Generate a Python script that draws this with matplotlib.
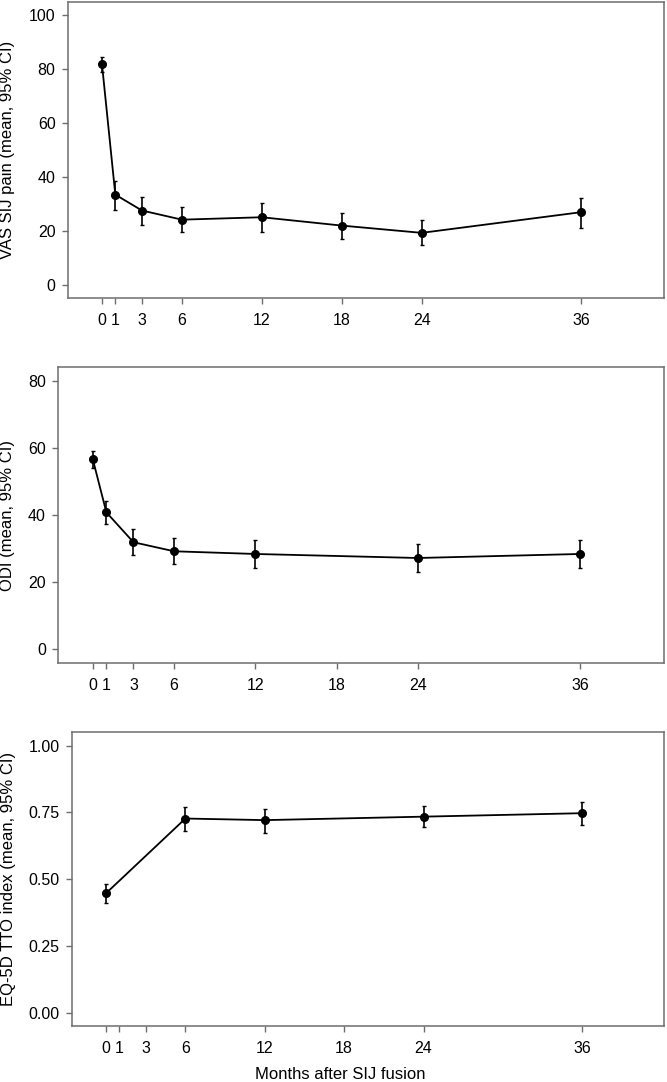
import matplotlib
matplotlib.use("Agg")
import matplotlib.pyplot as plt

plt.rcParams['font.family'] = ['Liberation Sans', 'DejaVu Sans']

# data
months = [0, 1, 3, 6, 12, 18, 24, 36]
xticks = [0, 1, 3, 6, 12, 18, 24, 36]

vas_mean = [81.8, 33.4, 27.5, 24.1, 25.0, 21.9, 19.2, 26.9]
vas_lo = [79.0, 27.8, 22.0, 19.4, 19.7, 17.1, 14.6, 21.0]
vas_hi = [84.5, 38.6, 32.5, 28.8, 30.4, 26.5, 23.8, 32.3]

odi_months = [0, 1, 3, 6, 12, 24, 36]
odi_mean = [56.6, 40.8, 31.9, 29.2, 28.4, 27.2, 28.4]
odi_lo = [54.1, 37.3, 28.0, 25.4, 24.2, 22.9, 24.2]
odi_hi = [59.1, 44.1, 35.9, 33.2, 32.6, 31.4, 32.7]

eq_months = [0, 6, 12, 24, 36]
eq_mean = [0.447, 0.727, 0.721, 0.734, 0.747]
eq_lo = [0.412, 0.682, 0.674, 0.694, 0.703]
eq_hi = [0.481, 0.769, 0.764, 0.775, 0.788]

fig = plt.figure(figsize=(6.67, 10.82), dpi=100)

panels = [
    ([0.102, 0.7246, 0.8936, 0.2736], months, vas_mean, vas_lo, vas_hi,
     "VAS SIJ pain (mean, 95% CI)", [0, 20, 40, 60, 80, 100], ["0", "20", "40", "60", "80", "100"], (-5, 105), -0.089),
    ([0.0874, 0.3875, 0.9085, 0.2730], odi_months, odi_mean, odi_lo, odi_hi,
     "ODI (mean, 95% CI)", [0, 20, 40, 60, 80], ["0", "20", "40", "60", "80"], (-4, 84), -0.071),
    ([0.1084, 0.0518, 0.8876, 0.2714], eq_months, eq_mean, eq_lo, eq_hi,
     "EQ-5D TTO index (mean, 95% CI)", [0, 0.25, 0.5, 0.75, 1.0], ["0.00", "0.25", "0.50", "0.75", "1.00"], (-0.05, 1.05), -0.095),
]

frame = "#6e6e6e"
for i, (rect, x, m, lo, hi, ylab, yt, ytl, ylim, lx) in enumerate(panels):
    ax = fig.add_axes(rect)
    err = [[a - b for a, b in zip(m, lo)], [b - a for a, b in zip(m, hi)]]
    ax.errorbar(x, m, yerr=err, color="black", lw=1.3, marker="o", ms=5.5,
                elinewidth=1.2, capsize=1.2, capthick=1.0)
    ax.set_xlim(-2.55, 42.2)
    ax.set_ylim(*ylim)
    ax.set_xticks(xticks)
    ax.set_xticklabels([str(t) for t in xticks], fontsize=11.5)
    ax.set_yticks(yt)
    ax.set_yticklabels(ytl, fontsize=11.5)
    ax.set_ylabel(ylab, fontsize=12)
    ax.yaxis.set_label_coords(lx, 0.5)
    for s in ax.spines.values():
        s.set_color(frame)
        s.set_linewidth(1.1)
    ax.tick_params(color=frame, length=4, width=1.0)
    ax.tick_params(axis="x", pad=7)
    ax.tick_params(axis="y", pad=5)
    if i == 2:
        ax.set_xlabel("Months after SIJ fusion", fontsize=12)
        ax.xaxis.set_label_coords(0.452, -0.14)

fig.savefig("out.png", dpi=100)
